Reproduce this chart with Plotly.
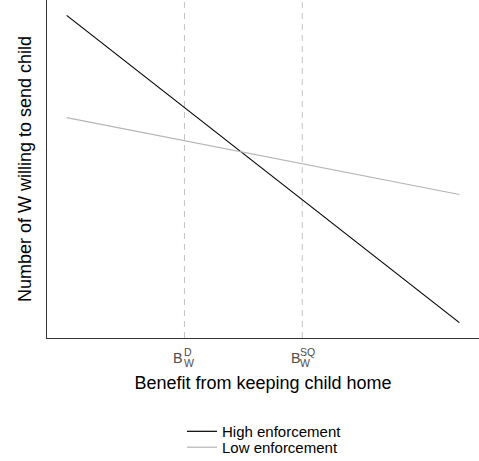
import plotly.graph_objects as go

# ---- data ----
x_vals = [0.0, 1.0]
high_enf = [1.0, 0.0]
low_enf = [0.667, 0.417]
series_names = ["High enforcement", "Low enforcement"]
tick_vals = [0.3, 0.6]
tick_base = ["B", "B"]
tick_sup = ["D", "SQ"]
tick_sub = ["W", "W"]
x_title = "Benefit from keeping child home"
y_title = "Number of W willing to send child"

# ---- styles ----
base_shift = [0, 0]
script_shift = [-1, -3]
FONT = "Liberation Sans, Arial, sans-serif"

fig = go.Figure()
fig.add_trace(go.Scatter(x=x_vals, y=high_enf, mode="lines", name=series_names[0],
                         line=dict(color="black", width=1.2), legend="legend"))
fig.add_trace(go.Scatter(x=x_vals, y=low_enf, mode="lines", name=series_names[1],
                         line=dict(color="#b5b5b5", width=1.2), legend="legend2"))

for xv in tick_vals:
    fig.add_vline(x=xv, line=dict(color="#c2c2c2", width=1, dash="6px,5px"), layer="below")

ann = []
for xv, b, sp, sb, bs, ss in zip(tick_vals, tick_base, tick_sup, tick_sub, base_shift, script_shift):
    ann.append(dict(x=xv, xref="x", y=0, yref="paper", text=b, showarrow=False,
                    xanchor="right", yanchor="middle", xshift=bs, yshift=-19.5,
                    borderpad=0, font=dict(size=14.4, color="#4d4d4d", family=FONT)))
    ann.append(dict(x=xv, xref="x", y=0, yref="paper", text=sp, showarrow=False,
                    xanchor="left", yanchor="middle", xshift=ss, yshift=-14,
                    borderpad=0, font=dict(size=10.5, color="#4d4d4d", family=FONT)))
    ann.append(dict(x=xv, xref="x", y=0, yref="paper", text=sb, showarrow=False,
                    xanchor="left", yanchor="middle", xshift=ss, yshift=-24.5,
                    borderpad=0, font=dict(size=10.5, color="#4d4d4d", family=FONT)))

leg_common = dict(xanchor="left", yanchor="top", bgcolor="rgba(0,0,0,0)",
                  font=dict(size=15, color="black"))

fig.update_layout(
    template="none",
    width=479, height=461,
    margin=dict(l=47, r=0, t=0, b=123, autoexpand=False),
    plot_bgcolor="white", paper_bgcolor="white",
    font=dict(family=FONT, color="black"),
    showlegend=True,
    legend=dict(x=0.3125, y=-0.228, **leg_common),
    legend2=dict(x=0.3125, y=-0.275, **leg_common),
    annotations=ann,
    xaxis=dict(range=[-0.05, 1.05], showgrid=False, zeroline=False, automargin=False,
               showline=True, mirror=True, linecolor="#333333", linewidth=1.2,
               ticks="", showticklabels=False, tickvals=tick_vals,
               title=dict(text=x_title, font=dict(size=18, color="black"), standoff=38)),
    yaxis=dict(range=[-0.05, 1.05], showgrid=False, zeroline=False, automargin=False,
               showline=True, mirror=False, linecolor="#333333", linewidth=1.2,
               ticks="", showticklabels=False,
               title=dict(text=y_title, font=dict(size=18, color="black"), standoff=9)),
)

fig.write_html("out.html", config={"displayModeBar": False},
               post_script="document.body.style.margin='0';document.body.style.overflow='hidden';")
